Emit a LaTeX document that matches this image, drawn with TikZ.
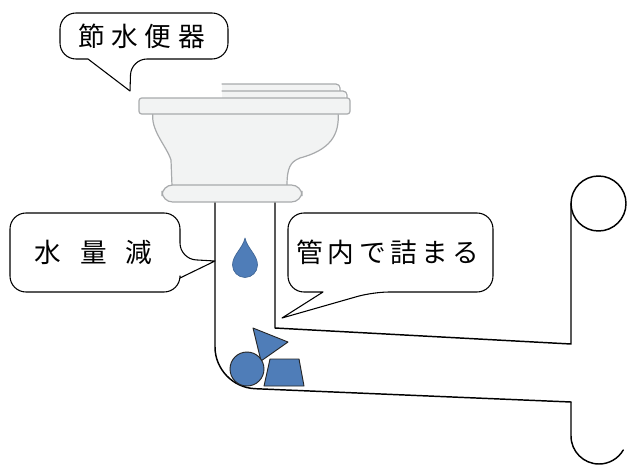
\documentclass[tikz,border=0pt]{standalone}
\usepackage{fontspec}
\newfontfamily\jpfont{Noto Sans CJK JP}
\usetikzlibrary{calc}
\definecolor{shapeblue}{RGB}{79,125,184}
\definecolor{bowlfill}{RGB}{242,243,243}
\definecolor{bowledge}{RGB}{168,170,172}

\begin{document}
\begin{tikzpicture}[x=0.75pt, y=0.75pt, line join=round, line cap=round,
    pipe/.style={line width=1.1pt},
    callout/.style={line width=0.8pt, fill=white},
    porcelain/.style={fill=bowlfill, draw=bowledge, line width=0.9pt},
    debris/.style={fill=shapeblue, draw=black!85, line width=0.7pt},
    calltext/.style={font=\jpfont\fontsize{20}{24}\selectfont, inner sep=0pt}]
      \useasboundingbox (0,0) rectangle (627,-464);
      \clip (0,0) rectangle (627,-464);
      % pipe walls
      \coordinate (P1) at (215,-202);
      \coordinate (P2) at (275,-202);
      \coordinate (B1) at (571,-402);
      \draw[pipe, rounded corners=30] (P1) -- (215,-387) -- (B1);
      \draw[pipe] (B1) -- (571,-436) arc[start angle=180, end angle=330, radius=28];
      \draw[pipe] (P2) -- (275,-328) -- (571,-344) -- (571,-203.5);
      \draw[pipe] (598.5,-203.5) circle[radius=27.5];
      % toilet
      \fill[bowlfill] (222,-84) rectangle (338,-91);
      \draw[porcelain, fill=none, rounded corners=3] (222,-84) -- (340,-84) -- (340,-91);
      \fill[bowlfill] (222,-91) rectangle (345,-98);
      \draw[porcelain, fill=none, rounded corners=3] (222,-91) -- (347,-91) -- (347,-98);
      \draw[porcelain] (153,-112) .. controls (150,-130) and (166,-145) .. (171,-160)
          -- (172,-186) -- (287,-186) .. controls (287,-168) and (290,-162) .. (300,-158)
          .. controls (330,-150) and (340,-135) .. (338,-112) -- cycle;
      \draw[porcelain, rounded corners=2] (139,-98) rectangle (350,-114);
      \draw[porcelain, rounded corners=8] (162,-185) rectangle (302,-202);
      % water drop
      \filldraw[fill=shapeblue, draw=shapeblue!80!black, line width=0.5pt]
          (245,-238) .. controls (247,-248) and (257.5,-255) .. (257.5,-265)
          arc[start angle=0, end angle=-180, radius=12.5]
          .. controls (232.5,-255) and (243,-248) .. cycle;
      % debris in the pipe
      \draw[debris] (253,-328) -- (288,-342) -- (261,-361) -- cycle;
      \draw[debris] (247,-369) circle[radius=17];
      \draw[debris] (264,-386) -- (304,-386) -- (299,-359) -- (270,-359) -- cycle;
      % callouts
      \draw[callout] (144,-13) [rounded corners=12] -- (228,-13) -- (228,-59) -- (131,-59)
          [sharp corners] -- (130,-91) -- (88,-59) [rounded corners=12] -- (60,-59) -- (60,-13) -- cycle;
      \draw[callout] (95,-213) [rounded corners=12] -- (180,-213) -- (180,-259)
          [sharp corners] -- (215,-261) -- (180,-278) [rounded corners=12] -- (180,-292) -- (10,-292) -- (10,-213) -- cycle;
      \draw[callout] (390,-213) [rounded corners=12] -- (493,-213) -- (493,-292) -- (373,-292)
          [sharp corners] -- (282,-318) -- (323,-292) [rounded corners=12] -- (288,-292) -- (288,-213) -- cycle;
      \node[calltext] (toilet) at (141.5,-36) {節\hspace{5pt}水\hspace{5pt}便\hspace{5pt}器};
      \node[calltext] (water) at (93.5,-252) {水\hspace{14pt}量\hspace{14pt}減};
      \node[calltext] (clog) at (388,-252) {管\hspace{3.4pt}内\hspace{3.4pt}で\hspace{3.4pt}詰\hspace{3.4pt}ま\hspace{3.4pt}る};
    \end{tikzpicture}
\end{document}
